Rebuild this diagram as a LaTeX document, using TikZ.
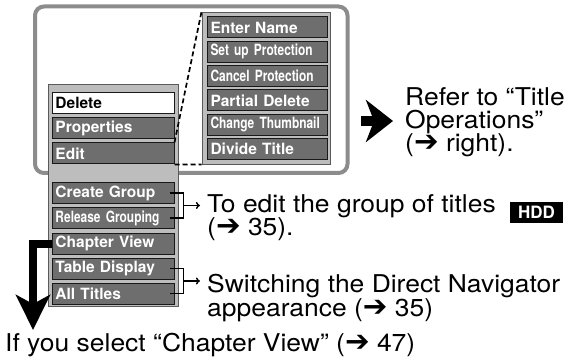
\documentclass[tikz,border=0pt]{standalone}
\usepackage{fontspec}
\setmainfont{TeX Gyre Heros}
\newfontfamily\condfont[FakeStretch=0.77]{TeX Gyre Heros}
\newfontfamily\notefont[FakeStretch=1.08]{TeX Gyre Heros}
\newfontfamily\dingfont[Scale=1.2]{DejaVu Sans}
\usetikzlibrary{arrows.meta}
\definecolor{framegray}{HTML}{8C8C8C}
\definecolor{panelfill}{HTML}{BDBDBD}
\definecolor{panelline}{HTML}{5A5A5A}
\definecolor{itemfill}{HTML}{6E6E6E}
\newcommand{\goto}{{\dingfont\bfseries ➔}}
\tikzset{
  frame/.style={draw=framegray, line width=4pt, rounded corners=9pt},
  panel/.style={draw=panelline, fill=panelfill, line width=0.9pt, inner sep=0pt},
  item/.style={draw=black!90, fill=itemfill, line width=1pt, text=white, font=\fontsize{15.5}{15.5}\selectfont\bfseries, text width=115pt, align=left, inner xsep=3.5pt, inner ysep=0pt, minimum height=21pt},
  sitem/.style={item, text width=113pt},
  cond/.style={font=\fontsize{15.5}{15.5}\selectfont\condfont\bfseries},
  selitem/.style={item, fill=white, text=black},
  zoomln/.style={draw=black, line width=1.7pt, dash pattern=on 5pt off 3pt},
  brk/.style={draw=black, line width=1.4pt},
  brkarr/.style={brk, -{To[length=4pt,width=7pt]}},
  bigarr/.style={draw=black, line width=10pt, -{Stealth[length=27pt,width=42pt,inset=8pt]}},
  downarr/.style={draw=black, line width=8pt, -{Stealth[length=35pt,width=34pt,inset=9pt]}},
  txt/.style={font=\fontsize{24.5}{23.5}\selectfont\notefont, inner sep=0pt, align=left, anchor=base west},
  badge/.style={fill=black, text=white, font=\fontsize{17}{17}\selectfont\bfseries, inner sep=0pt, minimum width=53pt, minimum height=21pt},
}
\begin{document}
\begin{tikzpicture}[x=1pt,y=-1pt]
  \useasboundingbox (0,0) rectangle (566,361);
  \draw[frame] (35,6.5) rectangle (347.5,173);
  % left menu
  \node[panel, minimum width=130pt, minimum height=222pt] (lpanel) at (113,195) {};
  \node[selitem] (del) at (113,103) {Delete};
  \node[item] (prop) at (113,128) {Properties};
  \node[item] (edit) at (113,153.5) {Edit};
  \node[item] (cgrp) at (113,193) {Create Group};
  \node[item, cond] (rgrp) at (113,218) {Release Grouping};
  \node[item] (chap) at (113,243.5) {Chapter View};
  \node[item] (tdisp) at (113,268.5) {Table Display};
  \node[item] (allt) at (113,293.5) {All Titles};
  % edit submenu
  \node[panel, minimum width=128pt, minimum height=152pt] (rpanel) at (266,88) {};
  \node[sitem] (ename) at (267,27.5) {Enter Name};
  \node[sitem, cond] (sprot) at (267,51.8) {Set up Protection};
  \node[sitem, cond] (cprot) at (267,76.1) {Cancel Protection};
  \node[sitem] (pdel) at (267,100.4) {Partial Delete};
  \node[sitem, cond] (cthumb) at (267,124.7) {Change Thumbnail};
  \node[sitem] (divt) at (267,149) {Divide Title};
  \draw[zoomln] (edit.north east) -- (rpanel.north west);
  \draw[zoomln] (edit.south east) -- (rpanel.south west);
  % arrows and notes (base anchor sits on the last line)
  \coordinate (rtail) at (361,121);
  \coordinate (rtip) at (393,121);
  \draw[bigarr] (rtail) -- (rtip);
  \node[txt] (refer) at (405,152) {Refer to “Title\\Operations”\\(\goto{} right).};
  \draw[brk] ([xshift=-5pt]cgrp.east) -- ++(14,0) |- ([xshift=-5pt]rgrp.east);
  \coordinate (gmid) at (183,205.5);
  \coordinate (gend) at (200,205.5);
  \draw[brkarr] (gmid) -- (gend);
  \node[txt] (grp) at (207,236) {To edit the group of titles\\(\goto{} 35).};
  \node[badge] (hdd) at (536.5,212.5) {HDD};
  \draw[brk] ([xshift=-5pt]tdisp.east) -- ++(14,0) |- ([xshift=-5pt]allt.east);
  \coordinate (smid) at (183,281);
  \coordinate (send) at (200,281);
  \draw[brkarr] (smid) -- (send);
  \node[txt] (switch) at (207,316) {Switching the Direct Navigator\\appearance (\goto{} 35)};
  \coordinate (dtip) at (33,330);
  \draw[downarr] (chap.west) -| (dtip);
  \node[txt] (chsel) at (5,351) {If you select “Chapter View” (\goto{} 47)};
\end{tikzpicture}
\end{document}
